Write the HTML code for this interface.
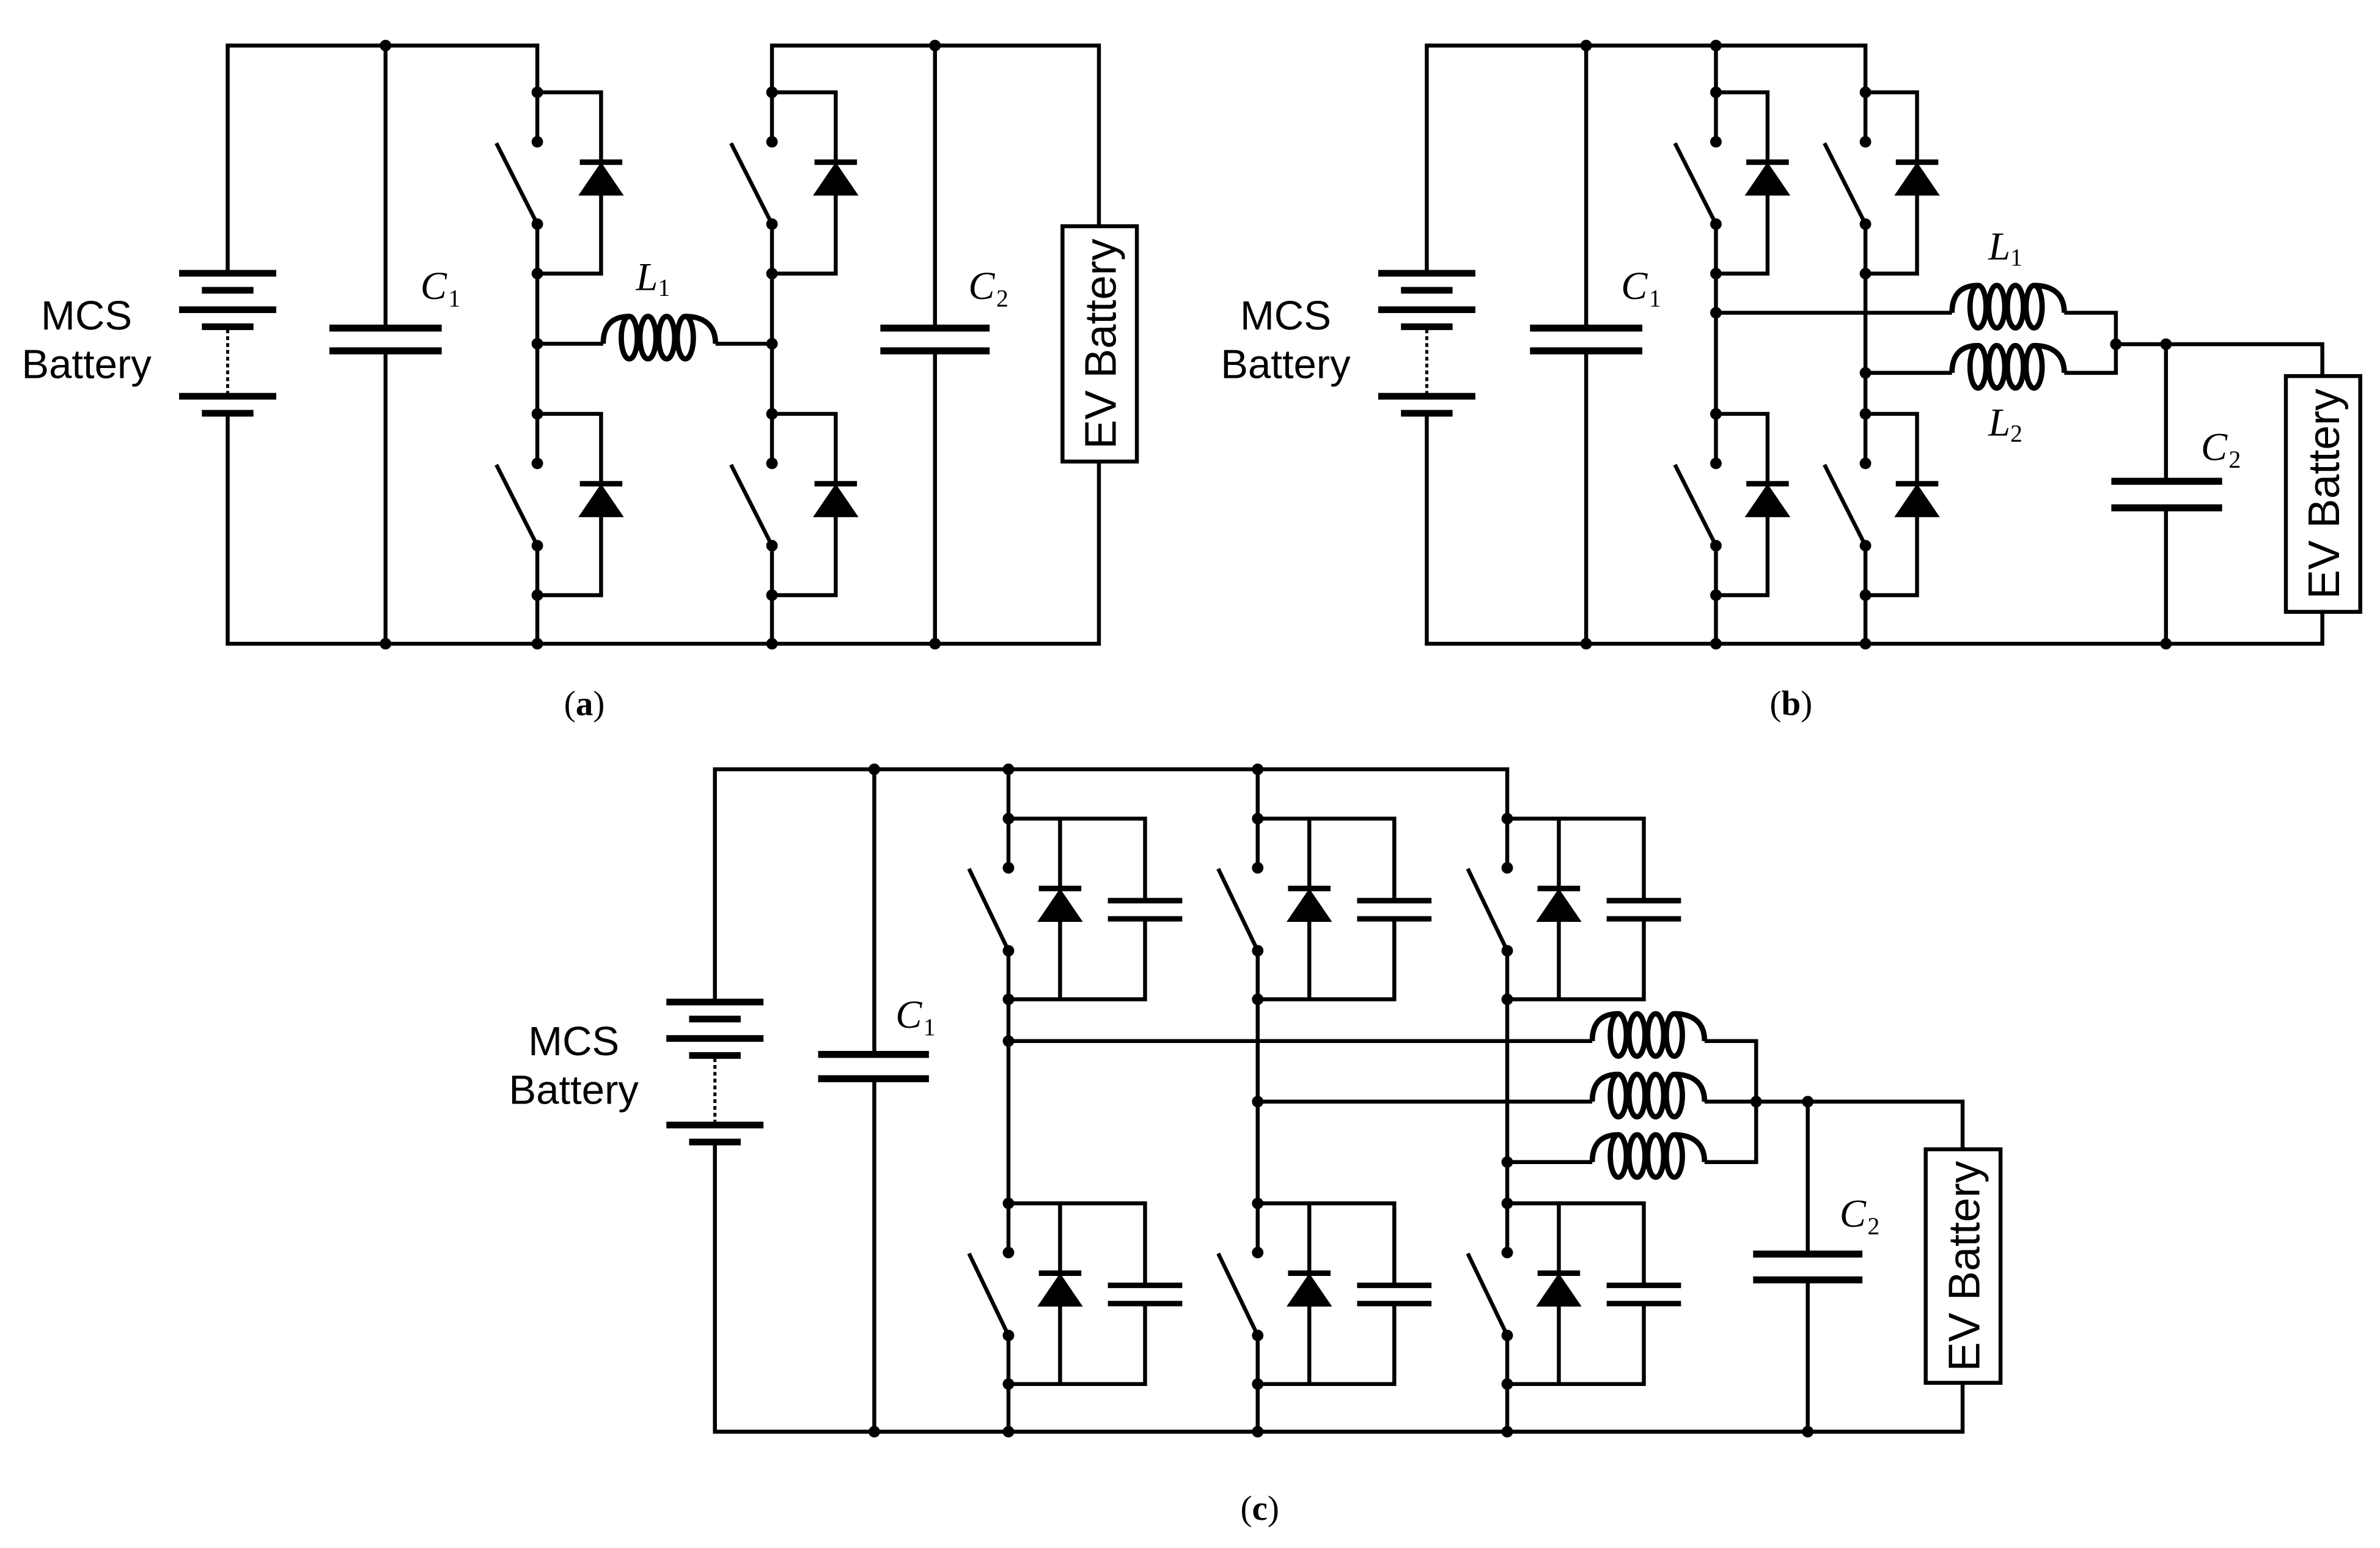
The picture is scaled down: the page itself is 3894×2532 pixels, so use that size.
<!DOCTYPE html>
<html><head><meta charset="utf-8"><style>
html,body{margin:0;padding:0;background:#fff;}
svg{display:block;}
.s{font-family:"Liberation Sans",sans-serif;font-size:27px;}
.ev{font-family:"Liberation Sans",sans-serif;font-size:29px;}
.it{font-family:"Liberation Serif",serif;font-style:italic;font-size:26px;}
.sub{font-family:"Liberation Serif",serif;font-style:normal;font-size:16px;}
.cap{font-family:"Liberation Serif",serif;font-size:23px;}
</style></head><body>
<svg width="3894" height="2532" viewBox="0 0 1568 1019.6" preserveAspectRatio="none" xmlns="http://www.w3.org/2000/svg">
<defs>
<g id="cellA">
  <path d="M0,0V32.6M0,86.8V119.4M-27,33.5L0,86.8M0,0H42V119.4H0" fill="none" stroke="#000" stroke-width="2.6"/>
  <line x1="28" y1="46" x2="56" y2="46" stroke="#000" stroke-width="3.6"/>
  <polygon points="42,46 27,68 57,68" fill="#000"/>
  <circle cx="0" cy="0" r="3.8"/><circle cx="0" cy="32.6" r="3.8"/><circle cx="0" cy="86.8" r="3.8"/><circle cx="0" cy="119.4" r="3.8"/>
</g>
<g id="cellB">
  <path d="M0,0V32.6M0,86.8V119.4M-27,33.5L0,86.8M0,0H34V119.4H0" fill="none" stroke="#000" stroke-width="2.6"/>
  <line x1="20" y1="46" x2="48" y2="46" stroke="#000" stroke-width="3.6"/>
  <polygon points="34,46 19,68 49,68" fill="#000"/>
  <circle cx="0" cy="0" r="3.8"/><circle cx="0" cy="32.6" r="3.8"/><circle cx="0" cy="86.8" r="3.8"/><circle cx="0" cy="119.4" r="3.8"/>
</g>
<g id="cellC">
  <path d="M0,0V32.4M0,87V119M-26,33L0,87M0,0H90V54M90,66V119H0M34,0V119" fill="none" stroke="#000" stroke-width="2.6"/>
  <line x1="20" y1="46" x2="48" y2="46" stroke="#000" stroke-width="3.6"/>
  <polygon points="34,46 19,68 49,68" fill="#000"/>
  <line x1="65.5" y1="54" x2="114.5" y2="54" stroke="#000" stroke-width="3.6"/>
  <line x1="65.5" y1="66" x2="114.5" y2="66" stroke="#000" stroke-width="3.6"/>
  <circle cx="0" cy="0" r="3.8"/><circle cx="0" cy="32.4" r="3.8"/><circle cx="0" cy="87" r="3.8"/><circle cx="0" cy="119" r="3.8"/>
</g>
<g id="coil" fill="none" stroke="#000" stroke-width="3.5">
  <path d="M0,0C0,-14 8,-18 17.2,-18M54.1,-18C64,-18 74,-14 74,0"/>
  <ellipse cx="17.2" cy="-4" rx="5.3" ry="14"/>
  <ellipse cx="29.5" cy="-4" rx="5.3" ry="14"/>
  <ellipse cx="41.8" cy="-4" rx="5.3" ry="14"/>
  <ellipse cx="54.1" cy="-4" rx="5.3" ry="14"/>
</g>
<g id="batt">
  <rect x="-32" y="-2.2" width="64" height="4.4"/>
  <rect x="-17" y="9" width="34" height="4.4"/>
  <rect x="-32" y="21.8" width="64" height="4.4"/>
  <rect x="-17" y="33" width="34" height="4.4"/>
  <line x1="0" y1="37" x2="0" y2="79" stroke="#000" stroke-width="2" stroke-dasharray="2.5,2"/>
  <rect x="-32" y="78.8" width="64" height="4.4"/>
  <rect x="-17" y="90" width="34" height="4.4"/>
</g>
</defs>

<!-- ===== (a) ===== -->
<g fill="none" stroke="#000" stroke-width="2.6">
  <path d="M150,180V30H354V60.8M354,180.2V272.6M354,391.4V424"/>
  <path d="M508.6,60.8V30H724V149M724,304V424H150V272"/>
  <path d="M508.6,180.2V272.6M508.6,391.4V424"/>
  <path d="M254,30V216M254,231V424M616,30V216M616,231V424"/>
  <path d="M354,226.4H397.4M471.4,226.4H508.6"/>
  <rect x="700" y="149" width="49" height="155"/>
</g>
<g fill="#000">
  <use href="#batt" x="150" y="180"/>
  <rect x="217" y="213.8" width="74" height="4.6"/><rect x="217" y="228.8" width="74" height="4.6"/>
  <rect x="580" y="213.8" width="72" height="4.6"/><rect x="580" y="228.8" width="72" height="4.6"/>
  <use href="#cellA" x="354" y="60.8"/><use href="#cellA" x="354" y="272.6"/>
  <use href="#cellA" x="508.6" y="60.8"/><use href="#cellA" x="508.6" y="272.6"/>
  <circle cx="254" cy="30" r="3.8"/><circle cx="616" cy="30" r="3.8"/>
  <circle cx="254" cy="424" r="3.8"/><circle cx="354" cy="424" r="3.8"/><circle cx="508.6" cy="424" r="3.8"/><circle cx="616" cy="424" r="3.8"/>
  <circle cx="354" cy="226.4" r="3.8"/><circle cx="508.6" cy="226.4" r="3.8"/>
</g>
<use href="#coil" x="397.4" y="226.4"/>
<text class="s" x="57" y="217" text-anchor="middle">MCS</text>
<text class="s" x="57" y="249" text-anchor="middle">Battery</text>
<text class="ev" transform="translate(735,226.5) rotate(-90)" text-anchor="middle">EV Battery</text>
<text class="it" x="277" y="197">C<tspan class="sub" dx="1" dy="5">1</tspan></text>
<text class="it" x="419" y="191">L<tspan class="sub" dx="0" dy="4">1</tspan></text>
<text class="it" x="638" y="197">C<tspan class="sub" dx="1" dy="5">2</tspan></text>
<text class="cap" x="385" y="471" text-anchor="middle">(<tspan font-weight="bold">a</tspan>)</text>

<!-- ===== (b) ===== -->
<g fill="none" stroke="#000" stroke-width="2.6">
  <path d="M940,180V30H1229V60.8M1130.5,30V60.8"/>
  <path d="M1130.5,180.2V272.6M1130.5,391.4V424M1229,180.2V272.6M1229,391.4V424"/>
  <path d="M1530,403V424H940V272"/>
  <path d="M1045,30V216M1045,231V424"/>
  <path d="M1130.5,206H1286M1229,245.6H1286M1360,206H1394V245.6H1360M1394,226.7H1530V247.7"/>
  <path d="M1427,226.7V317M1427,334.5V424"/>
  <rect x="1506" y="247.7" width="49" height="155.3"/>
</g>
<g fill="#000">
  <use href="#batt" x="940" y="180"/>
  <rect x="1008" y="213.8" width="74" height="4.6"/><rect x="1008" y="228.8" width="74" height="4.6"/>
  <rect x="1391" y="314.7" width="73" height="4.6"/><rect x="1391" y="332.2" width="73" height="4.6"/>
  <use href="#cellB" x="1130.5" y="60.8"/><use href="#cellB" x="1130.5" y="272.6"/>
  <use href="#cellB" x="1229" y="60.8"/><use href="#cellB" x="1229" y="272.6"/>
  <circle cx="1045" cy="30" r="3.8"/><circle cx="1130.5" cy="30" r="3.8"/>
  <circle cx="1045" cy="424" r="3.8"/><circle cx="1130.5" cy="424" r="3.8"/><circle cx="1229" cy="424" r="3.8"/><circle cx="1427" cy="424" r="3.8"/>
  <circle cx="1130.5" cy="206" r="3.8"/><circle cx="1229" cy="245.6" r="3.8"/>
  <circle cx="1394" cy="226.7" r="3.8"/><circle cx="1427" cy="226.7" r="3.8"/>
</g>
<use href="#coil" x="1286" y="206"/>
<use href="#coil" x="1286" y="245.6"/>
<text class="s" x="847" y="217" text-anchor="middle">MCS</text>
<text class="s" x="847" y="249" text-anchor="middle">Battery</text>
<text class="ev" transform="translate(1541,325.3) rotate(-90)" text-anchor="middle">EV Battery</text>
<text class="it" x="1068" y="197">C<tspan class="sub" dx="1" dy="5">1</tspan></text>
<text class="it" x="1310" y="171">L<tspan class="sub" dx="0" dy="4">1</tspan></text>
<text class="it" x="1310" y="287">L<tspan class="sub" dx="0" dy="4">2</tspan></text>
<text class="it" x="1450" y="303">C<tspan class="sub" dx="1" dy="5">2</tspan></text>
<text class="cap" x="1180" y="471" text-anchor="middle">(<tspan font-weight="bold">b</tspan>)</text>

<!-- ===== (c) ===== -->
<g fill="none" stroke="#000" stroke-width="2.6">
  <path d="M471,658V506.7H993V539.2M664.4,506.7V539.2M828.6,506.7V539.2"/>
  <path d="M664.4,658.2V792.6M828.6,658.2V792.6M993,658.2V792.6"/>
  <path d="M664.4,910.8V943M828.6,910.8V943M993,910.8V943"/>
  <path d="M1293,910.8V943H471V751"/>
  <path d="M576,506.7V694.5M576,710.5V943"/>
  <path d="M664.4,685.7H1049M828.6,725.6H1049M993,765.4H1049"/>
  <path d="M1123,685.7H1157V765.4H1123M1123,725.6H1157M1157,725.6H1293V757"/>
  <path d="M1191,725.6V826M1191,843V943"/>
  <rect x="1268.7" y="757" width="49.3" height="153.8"/>
</g>
<g fill="#000">
  <use href="#batt" x="471" y="660"/>
  <rect x="539" y="692.2" width="73" height="4.6"/><rect x="539" y="708.2" width="73" height="4.6"/>
  <rect x="1155" y="823.7" width="72" height="4.6"/><rect x="1155" y="840.7" width="72" height="4.6"/>
  <use href="#cellC" x="664.4" y="539.2"/><use href="#cellC" x="664.4" y="792.6"/>
  <use href="#cellC" x="828.6" y="539.2"/><use href="#cellC" x="828.6" y="792.6"/>
  <use href="#cellC" x="993" y="539.2"/><use href="#cellC" x="993" y="792.6"/>
  <circle cx="576" cy="506.7" r="3.8"/><circle cx="664.4" cy="506.7" r="3.8"/><circle cx="828.6" cy="506.7" r="3.8"/>
  <circle cx="576" cy="943" r="3.8"/><circle cx="664.4" cy="943" r="3.8"/><circle cx="828.6" cy="943" r="3.8"/><circle cx="993" cy="943" r="3.8"/><circle cx="1191" cy="943" r="3.8"/>
  <circle cx="664.4" cy="685.7" r="3.8"/><circle cx="828.6" cy="725.6" r="3.8"/><circle cx="993" cy="765.4" r="3.8"/>
  <circle cx="1157" cy="725.6" r="3.8"/><circle cx="1191" cy="725.6" r="3.8"/>
</g>
<use href="#coil" x="1049" y="685.7"/>
<use href="#coil" x="1049" y="725.6"/>
<use href="#coil" x="1049" y="765.4"/>
<text class="s" x="378" y="695" text-anchor="middle">MCS</text>
<text class="s" x="378" y="727" text-anchor="middle">Battery</text>
<text class="ev" transform="translate(1304,834) rotate(-90)" text-anchor="middle">EV Battery</text>
<text class="it" x="590" y="677">C<tspan class="sub" dx="1" dy="5">1</tspan></text>
<text class="it" x="1212" y="808">C<tspan class="sub" dx="1" dy="5">2</tspan></text>
<text class="cap" x="830" y="1001" text-anchor="middle">(<tspan font-weight="bold">c</tspan>)</text>
</svg>
</body></html>
